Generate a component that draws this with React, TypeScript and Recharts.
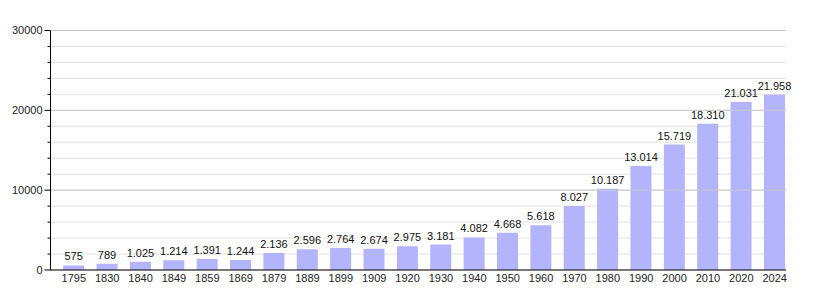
import React from "react";
import { BarChart, Bar, XAxis, YAxis, CartesianGrid, LabelList, ReferenceLine } from "recharts";

const years = ["1795","1830","1840","1849","1859","1869","1879","1889","1899","1909","1920","1930","1940","1950","1960","1970","1980","1990","2000","2010","2020","2024"];
const population = [575,789,1025,1214,1391,1244,2136,2596,2764,2674,2975,3181,4082,4668,5618,8027,10187,13014,15719,18310,21031,21958];
const yTicks = [0,2000,4000,6000,8000,10000,12000,14000,16000,18000,20000,22000,24000,26000,28000,30000];
const majorTicks = [10000, 20000, 30000];

const data = years.map((y, i) => ({ i, year: y, pop: population[i] }));

const fmt = (v: number) => String(v).replace(/\B(?=(\d{3})+(?!\d))/g, ".");

const FONT = "'Liberation Sans', Arial, sans-serif";

const YTick = (props: any) => {
  const { x, y, payload } = props;
  const v = payload.value;
  const major = v % 10000 === 0;
  return (
    <g>
      <line x1={x - (major ? 6 : 3)} x2={x} y1={y} y2={y} stroke="#000" strokeWidth={1} />
      {major && (
        <text x={x - 8} y={y} dy="0.35em" textAnchor="end" fontSize={11} fontFamily={FONT} fill="#222">
          {v}
        </text>
      )}
    </g>
  );
};

export default function App() {
  return (
    <BarChart
      width={807}
      height={292}
      data={data}
      margin={{ top: 22.5, right: 29, bottom: 0, left: 0 }}
    >
      <CartesianGrid horizontal={true} vertical={false} stroke="#e2e2e2" />
      {majorTicks.map((t) => (
        <ReferenceLine key={t} y={t} stroke="#c8c8c8" />
      ))}
      <XAxis
        dataKey="i"
        type="number"
        domain={[-0.7, 21.34]}
        allowDataOverflow={true}
        ticks={data.map((d) => d.i)}
        tickFormatter={(v: number) => years[v]}
        interval={0}
        tickLine={false}
        tickSize={0}
        tickMargin={4}
        height={30}
        stroke="#000"
        tick={{ fontSize: 11, fontFamily: FONT, fill: "#222" }}
      />
      <YAxis
        domain={[0, 30000]}
        ticks={yTicks}
        interval={0}
        width={42.5}
        tickLine={false}
        tickSize={0}
        tickMargin={0}
        stroke="#000"
        tick={<YTick />}
      />
      <Bar dataKey="pop" fill="#b4b4fc" barSize={21} isAnimationActive={false}>
        <LabelList
          dataKey="pop"
          position="top"
          offset={5}
          formatter={(v: any) => fmt(Number(v))}
          style={{ fontSize: 11, fontFamily: FONT, fill: "#111" }}
        />
      </Bar>
    </BarChart>
  );
}
